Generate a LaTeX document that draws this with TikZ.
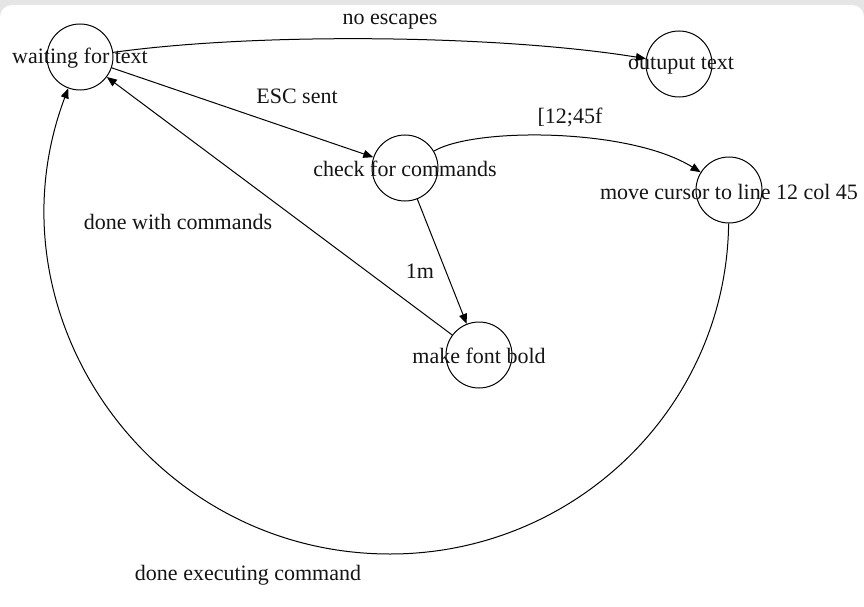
\documentclass[tikz,border=0pt]{standalone}
\usepackage{fontspec}
\setmainfont{Liberation Serif}
\usetikzlibrary{arrows.meta}
\begin{document}
\begin{tikzpicture}[x=1pt,y=-1pt,
  state/.style={circle,draw=black,line width=1pt,minimum size=66pt,inner sep=0pt},
  lbl/.style={inner sep=0pt,font=\fontsize{22}{26}\selectfont,text=black!92},
  edge/.style={draw=black,line width=1pt,-{Triangle[length=10pt,width=8pt]}}]
\useasboundingbox (0,0) rectangle (864,607);
\fill[black!10] (0,0) rectangle (864,607);
\fill[white,rounded corners=12pt] (0,5) rectangle (864,640);
% states
\node[state] (wft) at (80,57) {};
\node[state] (out) at (679,64) {};
\node[state] (chk) at (405,168) {};
\node[state] (mc) at (729,190) {};
\node[state] (mfb) at (479,355) {};
\coordinate (bot) at (390,554);
% state texts
\node[lbl] (twft) at (80,58) {waiting for text};
\node[lbl] (tout) at (681,66) {outuput text};
\node[lbl] (tchk) at (405,169) {check for commands};
\node[lbl] (tmc) at (729,192) {move cursor to line 12 col 45};
\node[lbl] (tmfb) at (479,356) {make font bold};
% edges
\draw[edge] (wft) .. controls (260,32) and (500,35) .. (out);
\draw[edge] (wft) -- (chk);
\draw[edge] (chk) .. controls (475,127) and (630,128) .. (mc);
\draw[edge] (chk) -- (mfb);
\draw[edge] (mfb) -- (wft);
\draw[edge] (mc) .. controls (726.5,407) and (575,554) .. (bot) .. controls (150,554) and (-16.6,314) .. (wft);
% edge labels
\node[lbl] (lne) at (390,22) {no escapes};
\node[lbl] (lesc) at (297,96) {ESC sent};
\node[lbl] (lcur) at (570,117) {[12;45f};
\node[lbl] (l1m) at (420,271) {1m};
\node[lbl] (ldwc) at (178,222) {done with commands};
\node[lbl] (ldec) at (248,575) {done executing command};
\end{tikzpicture}
\end{document}
